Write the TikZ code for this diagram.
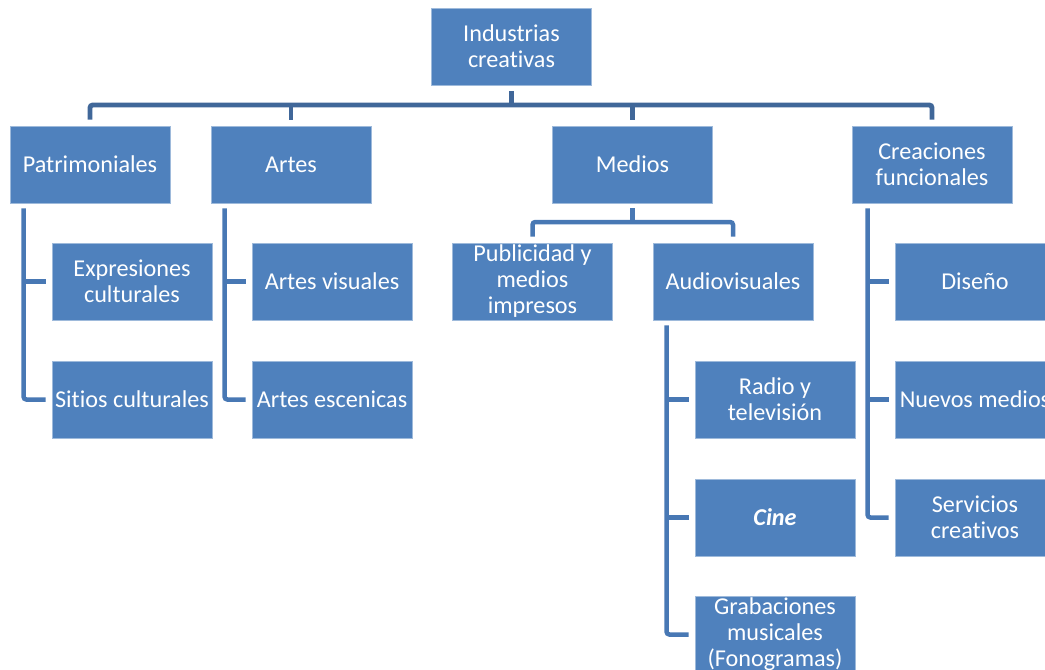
\documentclass[tikz,border=0pt]{standalone}
\usepackage{fontspec}
\setmainfont{Carlito}[Ligatures=NoCommon]
\definecolor{boxblue}{RGB}{79,129,189}
\definecolor{linkblue}{RGB}{72,120,180}
\definecolor{busblue}{RGB}{64,103,153}
\begin{document}
\begin{tikzpicture}[
  x=0.025cm, y=-0.025cm,
  box/.style={rectangle, draw=boxblue!55!white, line width=0.6pt, fill=boxblue, text=white,
    minimum width=4cm, minimum height=1.925cm, align=center, inner sep=1pt,
    font=\fontsize{17.2}{18.5}\selectfont},
  link/.style={draw=linkblue, line width=3.2pt, rounded corners=2pt},
  bus/.style={draw=busblue, line width=3.5pt, rounded corners=2pt}
]
\useasboundingbox (0,0) rectangle (1045,670);
\clip (0,0) rectangle (1045,670);

\node[box] (root) at (511.5,46.5) {Industrias\\creativas};

\node[box] (patr) at (90,164.5) {Patrimoniales};
\node[box] (artes) at (291,164.5) {Artes};
\node[box] (medios) at (632.5,164.5) {Medios};
\node[box] (crea) at (932,164.5) {Creaciones\\funcionales};

\node[box] (expr) at (132,281.5) {Expresiones\\culturales};
\node[box] (sitios) at (132,399.5) {Sitios culturales};

\node[box] (artv) at (332,281.5) {Artes visuales};
\node[box] (artesc) at (332,399.5) {Artes escenicas};

\node[box] (publ) at (532.5,281.5) {Publicidad y\\medios\\impresos};
\node[box] (audio) at (733,281.5) {Audiovisuales};

\node[box] (radio) at (775,399.5) {Radio y\\televisión};
\node[box] (cine) at (775,517.5) {\textbf{\textit{Cine}}};
\node[box] (grab) at (775,634.5) {Grabaciones\\musicales\\(Fonogramas)};

\node[box] (dise) at (975,281.5) {Diseño};
\node[box] (nuevos) at (975,399.5) {Nuevos medios};
\node[box] (serv) at (975,517.5) {Servicios\\creativos};

\coordinate (topbus) at (511.5,105);
\coordinate (medbus) at (632.5,222);

\draw[bus] ([yshift=0.15cm]patr.north) -- (patr.north |- topbus) -- (crea.north |- topbus) -- ([yshift=0.15cm]crea.north);
\draw[bus] ([yshift=-0.15cm]root.south) -- (root.south |- topbus);
\draw[bus] ([yshift=0.15cm]artes.north) -- (artes.north |- topbus);
\draw[bus] ([yshift=0.15cm]medios.north) -- (medios.north |- topbus);

\draw[link] ([yshift=-0.125cm]medios.south) -- (medios.south |- medbus);
\draw[link] ([yshift=0.15cm]publ.north) -- (publ.north |- medbus) -- (audio.north |- medbus) -- ([yshift=0.15cm]audio.north);

\draw[link] ([xshift=0.35cm,yshift=-0.125cm]patr.south west) |- ([xshift=-0.15cm]sitios.west);
\draw[link] ([xshift=0.35cm]patr.south west |- expr.west) -- ([xshift=-0.15cm]expr.west);

\draw[link] ([xshift=0.35cm,yshift=-0.125cm]artes.south west) |- ([xshift=-0.15cm]artesc.west);
\draw[link] ([xshift=0.35cm]artes.south west |- artv.west) -- ([xshift=-0.15cm]artv.west);

\draw[link] ([xshift=0.35cm,yshift=-0.125cm]audio.south west) |- ([xshift=-0.15cm]grab.west);
\draw[link] ([xshift=0.35cm]audio.south west |- radio.west) -- ([xshift=-0.15cm]radio.west);
\draw[link] ([xshift=0.35cm]audio.south west |- cine.west) -- ([xshift=-0.15cm]cine.west);

\draw[link] ([xshift=0.4cm,yshift=-0.125cm]crea.south west) |- ([xshift=-0.15cm]serv.west);
\draw[link] ([xshift=0.4cm]crea.south west |- dise.west) -- ([xshift=-0.15cm]dise.west);
\draw[link] ([xshift=0.4cm]crea.south west |- nuevos.west) -- ([xshift=-0.15cm]nuevos.west);
\end{tikzpicture}
\end{document}
